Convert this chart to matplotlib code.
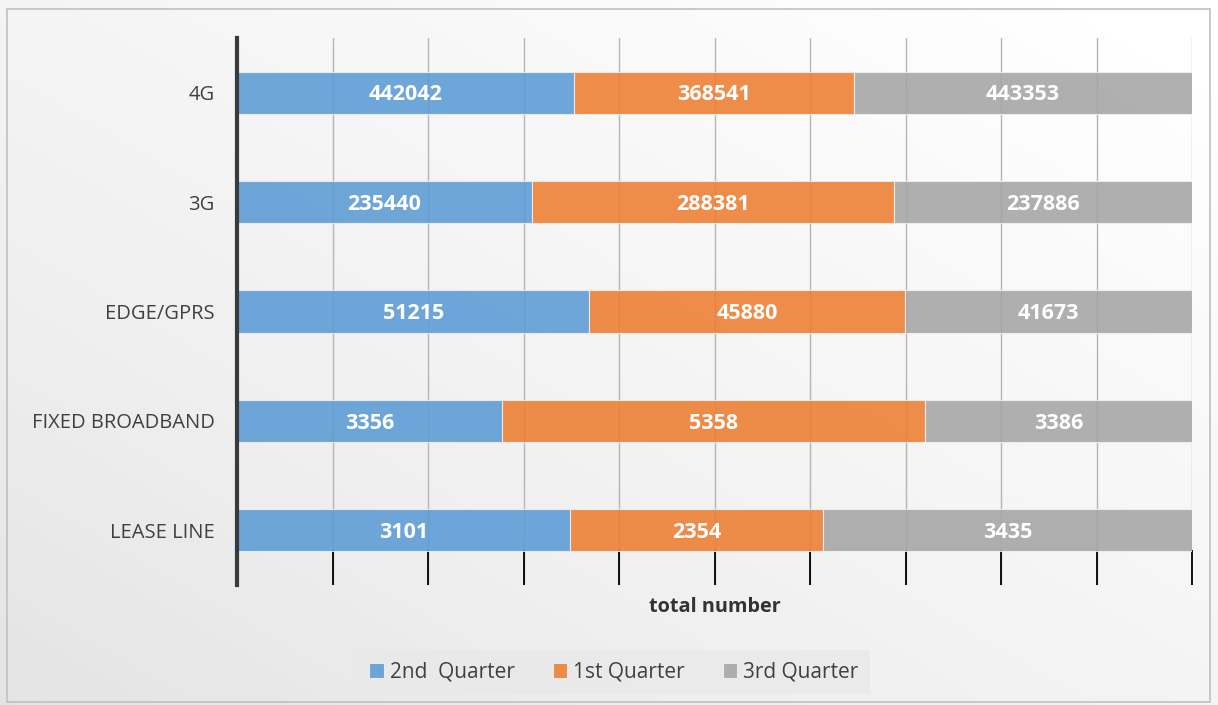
import numpy as np
import matplotlib.pyplot as plt

categories = ["4G", "3G", "EDGE/GPRS", "FIXED BROADBAND", "LEASE LINE"]
q2 = [442042, 235440, 51215, 3356, 3101]
q1 = [368541, 288381, 45880, 5358, 2354]
q3 = [443353, 237886, 41673, 3386, 3435]
series_names = ["2nd  Quarter", "1st Quarter", "3rd Quarter"]
colors = ["#5b9bd5", "#ed7d31", "#a5a5a5"]

W, H = 1218, 705
fig = plt.figure(figsize=(W / 100, H / 100), dpi=100)

# gradient background
bg = fig.add_axes([0, 0, 1, 1], zorder=-10)
xx, yy = np.meshgrid(np.linspace(0, 1, 200), np.linspace(0, 1, 200))
g = 0.5 * xx + 0.5 * yy
bg.imshow(g, cmap="Greys_r", vmin=-4.0, vmax=0.95, aspect="auto",
          extent=[0, 1, 0, 1], origin="lower")
bg.set_xlim(0, 1)
bg.set_ylim(0, 1)
bg.add_patch(plt.Rectangle((7 / W, 3 / H), 1203 / W, 693 / H, fill=False,
                           ec="#c0c0c0", lw=1.2))
bg.axis("off")

ax = fig.add_axes([237 / W, 1 - 585 / H, (1192 - 237) / W, (585 - 38) / H])
ax.patch.set_alpha(0)

data = np.array([q2, q1, q3], dtype=float)
frac = data / data.sum(axis=0)
y = np.arange(len(categories))
left = np.zeros(len(categories))
for i in range(3):
    ax.barh(y, frac[i], left=left, height=0.385, color=colors[i], alpha=0.88,
            edgecolor="#f0f0f0", linewidth=0.8, label=series_names[i], zorder=2)
    for j in range(len(categories)):
        ax.text(left[j] + frac[i][j] / 2, y[j] + 0.02, str(int(data[i][j])),
                ha="center", va="center", color="white", fontsize=15.5,
                fontweight="bold", family="Open Sans", zorder=3)
    left += frac[i]

ax.set_xlim(0, 1.0)
ax.set_ylim(4.5, -0.5)
ax.set_xticks(np.linspace(0, 1, 11))
ax.set_xticklabels([])
ax.grid(axis="x", color="#b5b5b5", lw=1.0, zorder=0)
ax.tick_params(axis="x", direction="in", length=25, width=1.3, color="black")
ax.tick_params(axis="y", length=0, pad=16, labelsize=14.5, labelcolor="#404040")
ax.set_yticks(y)
ax.set_yticklabels(categories, family="Open Sans")
for s in ["top", "right", "bottom"]:
    ax.spines[s].set_visible(False)
ax.spines["left"].set_linewidth(3)
ax.spines["left"].set_color("#3a3a3a")
ax.set_xlabel("total number", fontsize=14.3, fontweight="bold", color="#333333",
              family="Open Sans", labelpad=5)

leg = fig.legend(loc="center", bbox_to_anchor=(614 / W, 1 - 672 / H), ncol=3,
                 frameon=True, fancybox=False, handlelength=0.7,
                 handleheight=0.7, handletextpad=0.3, columnspacing=1.8,
                 prop={"family": "Open Sans", "size": 15}, borderpad=0.55)
leg.get_frame().set_facecolor("#e9e9e9")
leg.get_frame().set_edgecolor("none")
for t in leg.get_texts():
    t.set_color("#404040")

fig.savefig("out.png", dpi=100)
